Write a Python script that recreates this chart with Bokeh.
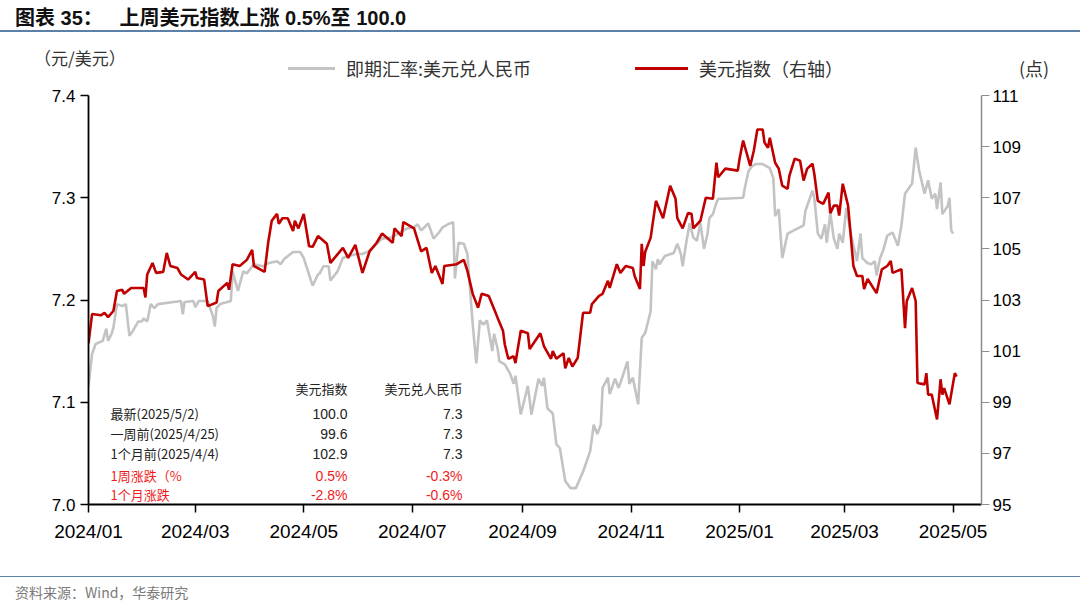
import pandas as pd
from bokeh.plotting import figure
from bokeh.models import (Range1d, LinearAxis, FixedTicker, NumeralTickFormatter,
                          DatetimeTickFormatter, Label, Div)
from bokeh.layouts import column
from bokeh.embed import file_html
from bokeh.resources import INLINE

# ---------------- data ----------------
dxy_dates = [
    "2024-01-01", "2024-01-03", "2024-01-08", "2024-01-10", "2024-01-12", "2024-01-15", "2024-01-17",
    "2024-01-20", "2024-01-21", "2024-01-25", "2024-02-01", "2024-02-02", "2024-02-03", "2024-02-06",
    "2024-02-08", "2024-02-12", "2024-02-14", "2024-02-16", "2024-02-20", "2024-02-22", "2024-02-26",
    "2024-03-01", "2024-03-02", "2024-03-06", "2024-03-08", "2024-03-13", "2024-03-14", "2024-03-19",
    "2024-03-20", "2024-03-22", "2024-03-26", "2024-03-30", "2024-04-02", "2024-04-03", "2024-04-09",
    "2024-04-11", "2024-04-13", "2024-04-16", "2024-04-17", "2024-04-19", "2024-04-22", "2024-04-25",
    "2024-04-26", "2024-04-28", "2024-05-01", "2024-05-04", "2024-05-06", "2024-05-09", "2024-05-14",
    "2024-05-16", "2024-05-23", "2024-05-26", "2024-05-30", "2024-06-03", "2024-06-07", "2024-06-11",
    "2024-06-14", "2024-06-20", "2024-06-21", "2024-06-25", "2024-06-26", "2024-07-02", "2024-07-06",
    "2024-07-09", "2024-07-12", "2024-07-14", "2024-07-18", "2024-07-19", "2024-07-26", "2024-07-30",
    "2024-08-01", "2024-08-04", "2024-08-07", "2024-08-09", "2024-08-13", "2024-08-16", "2024-08-18",
    "2024-08-21", "2024-08-22", "2024-08-24", "2024-08-27", "2024-08-28", "2024-08-31", "2024-09-04",
    "2024-09-05", "2024-09-11", "2024-09-13", "2024-09-17", "2024-09-18", "2024-09-20", "2024-09-24",
    "2024-09-25", "2024-09-27", "2024-09-29", "2024-10-02", "2024-10-05", "2024-10-09", "2024-10-10",
    "2024-10-14", "2024-10-16", "2024-10-19", "2024-10-20", "2024-10-24", "2024-10-26", "2024-10-29",
    "2024-11-02", "2024-11-03", "2024-11-06", "2024-11-07", "2024-11-08", "2024-11-09", "2024-11-12",
    "2024-11-15", "2024-11-19", "2024-11-23", "2024-11-26", "2024-11-27", "2024-11-30", "2024-12-03",
    "2024-12-05", "2024-12-06", "2024-12-10", "2024-12-13", "2024-12-17", "2024-12-19", "2024-12-20",
    "2024-12-24", "2024-12-31", "2025-01-01", "2025-01-03", "2025-01-07", "2025-01-09", "2025-01-11",
    "2025-01-14", "2025-01-15", "2025-01-17", "2025-01-18", "2025-01-21", "2025-01-23", "2025-01-25",
    "2025-01-28", "2025-01-29", "2025-02-01", "2025-02-04", "2025-02-06", "2025-02-08", "2025-02-11",
    "2025-02-12", "2025-02-14", "2025-02-17", "2025-02-20", "2025-02-21", "2025-02-23", "2025-02-25",
    "2025-02-26", "2025-02-28", "2025-03-03", "2025-03-06", "2025-03-08", "2025-03-11", "2025-03-12",
    "2025-03-14", "2025-03-19", "2025-03-22", "2025-03-25", "2025-03-27", "2025-03-28", "2025-04-02",
    "2025-04-04", "2025-04-05", "2025-04-08", "2025-04-10", "2025-04-11", "2025-04-15", "2025-04-16",
    "2025-04-17", "2025-04-19", "2025-04-22", "2025-04-24", "2025-04-25", "2025-04-26", "2025-04-29",
    "2025-05-02", "2025-05-03",
]
dxy_values = [
    101.3, 102.45, 102.4, 102.5, 102.33, 102.57, 103.35,
    103.4, 103.24, 103.47, 103.47, 103.1, 104.0, 104.45,
    104.06, 104.1, 104.84, 104.33, 104.25, 104.0, 103.8,
    104.1, 103.86, 103.8, 102.76, 102.9, 103.35, 103.67,
    103.4, 104.4, 104.33, 104.57, 104.96, 104.33, 104.1,
    105.24, 106.1, 106.37, 105.98, 106.2, 106.2, 105.7,
    106.1, 105.8, 106.37, 105.1, 105.08, 105.5, 105.2,
    104.45, 105.04, 104.65, 105.16, 104.06, 104.9, 105.24,
    105.6, 105.24, 105.8, 105.5, 106.05, 105.8, 104.9,
    105.04, 104.06, 104.33, 103.63, 104.33, 104.4, 104.57,
    104.14, 103.24, 102.7, 103.24, 103.16, 102.65, 102.3,
    101.8, 101.27, 100.7, 100.8, 100.53, 101.8, 101.7,
    101.08, 101.7, 101.2, 100.7, 101.0, 100.7, 100.92,
    100.33, 100.73, 100.4, 100.73, 102.5, 102.5, 102.84,
    103.16, 103.24, 103.75, 103.47, 104.4, 104.06, 104.33,
    104.25, 103.94, 103.43, 105.2, 104.33, 104.9, 105.43,
    106.88, 106.2, 107.47, 106.96, 106.2, 105.8, 106.4,
    106.37, 105.8, 106.1, 107.0, 106.96, 108.37, 107.8,
    108.14, 108.06, 108.53, 109.24, 108.25, 108.84, 109.67,
    109.67, 109.16, 108.96, 109.35, 108.37, 108.14, 107.47,
    107.35, 107.86, 108.53, 108.45, 107.67, 108.14, 108.33,
    107.94, 106.88, 106.76, 107.2, 106.4, 106.69, 106.69,
    106.3, 107.55, 106.69, 104.33, 103.94, 103.94, 103.43,
    103.82, 103.27, 104.2, 104.33, 104.53, 104.06, 104.2,
    101.9, 102.96, 103.47, 102.96, 99.75, 99.7, 100.14,
    99.3, 99.3, 98.33, 99.9, 99.3, 99.55, 98.92,
    100.14, 100.0,
]

cny_dates = [
    "2024-01-01", "2024-01-03", "2024-01-05", "2024-01-09", "2024-01-11", "2024-01-12", "2024-01-14",
    "2024-01-15", "2024-01-17", "2024-01-20", "2024-01-22", "2024-01-24", "2024-01-26", "2024-01-29",
    "2024-01-31", "2024-02-01", "2024-02-03", "2024-02-05", "2024-02-07", "2024-02-09", "2024-02-22",
    "2024-02-23", "2024-02-24", "2024-02-29", "2024-03-01", "2024-03-03", "2024-03-08", "2024-03-11",
    "2024-03-12", "2024-03-13", "2024-03-15", "2024-03-21", "2024-03-22", "2024-03-25", "2024-03-28",
    "2024-03-30", "2024-04-03", "2024-04-08", "2024-04-11", "2024-04-16", "2024-04-18", "2024-04-20",
    "2024-04-25", "2024-04-29", "2024-05-01", "2024-05-06", "2024-05-09", "2024-05-10", "2024-05-12",
    "2024-05-15", "2024-05-16", "2024-05-20", "2024-05-23", "2024-05-26", "2024-05-31", "2024-06-03",
    "2024-06-07", "2024-06-11", "2024-06-14", "2024-06-19", "2024-06-24", "2024-06-28", "2024-07-02",
    "2024-07-04", "2024-07-06", "2024-07-10", "2024-07-13", "2024-07-16", "2024-07-18", "2024-07-21",
    "2024-07-24", "2024-07-25", "2024-07-27", "2024-07-30", "2024-08-01", "2024-08-04", "2024-08-06",
    "2024-08-08", "2024-08-10", "2024-08-12", "2024-08-15", "2024-08-16", "2024-08-18", "2024-08-19",
    "2024-08-22", "2024-08-25", "2024-08-27", "2024-08-28", "2024-08-31", "2024-09-03", "2024-09-04",
    "2024-09-06", "2024-09-10", "2024-09-12", "2024-09-13", "2024-09-15", "2024-09-18", "2024-09-20",
    "2024-09-22", "2024-09-25", "2024-09-28", "2024-10-01", "2024-10-05", "2024-10-09", "2024-10-11",
    "2024-10-13", "2024-10-15", "2024-10-16", "2024-10-19", "2024-10-20", "2024-10-23", "2024-10-25",
    "2024-10-27", "2024-10-30", "2024-10-31", "2024-11-02", "2024-11-05", "2024-11-07", "2024-11-09",
    "2024-11-12", "2024-11-13", "2024-11-15", "2024-11-16", "2024-11-17", "2024-11-20", "2024-11-25",
    "2024-11-27", "2024-11-29", "2024-11-30", "2024-12-02", "2024-12-04", "2024-12-06", "2024-12-08",
    "2024-12-10", "2024-12-12", "2024-12-14", "2024-12-15", "2024-12-17", "2024-12-19", "2024-12-20",
    "2024-12-23", "2025-01-03", "2025-01-04", "2025-01-06", "2025-01-08", "2025-01-10", "2025-01-14",
    "2025-01-18", "2025-01-20", "2025-01-21", "2025-01-23", "2025-01-25", "2025-01-28", "2025-02-06",
    "2025-02-07", "2025-02-11", "2025-02-12", "2025-02-14", "2025-02-16", "2025-02-18", "2025-02-19",
    "2025-02-21", "2025-02-23", "2025-02-25", "2025-02-26", "2025-02-28", "2025-03-02", "2025-03-05",
    "2025-03-08", "2025-03-10", "2025-03-11", "2025-03-14", "2025-03-16", "2025-03-18", "2025-03-19",
    "2025-03-21", "2025-03-23", "2025-03-25", "2025-03-28", "2025-03-31", "2025-04-02", "2025-04-04",
    "2025-04-08", "2025-04-10", "2025-04-12", "2025-04-15", "2025-04-17", "2025-04-19", "2025-04-21",
    "2025-04-22", "2025-04-24", "2025-04-25", "2025-04-28", "2025-04-29", "2025-04-30", "2025-05-01",
]
cny_values = [
    7.116, 7.147, 7.157, 7.160, 7.172, 7.160, 7.167,
    7.173, 7.196, 7.194, 7.196, 7.165, 7.170, 7.179,
    7.179, 7.182, 7.179, 7.196, 7.192, 7.196, 7.199,
    7.186, 7.198, 7.199, 7.193, 7.199, 7.199, 7.184,
    7.174, 7.192, 7.196, 7.199, 7.228, 7.209, 7.228,
    7.226, 7.235, 7.233, 7.236, 7.238, 7.235, 7.240,
    7.247, 7.247, 7.241, 7.214, 7.225, 7.226, 7.233,
    7.233, 7.219, 7.228, 7.241, 7.243, 7.245, 7.245,
    7.248, 7.255, 7.260, 7.261, 7.266, 7.270, 7.271,
    7.274, 7.268, 7.275, 7.260, 7.266, 7.271, 7.274,
    7.276, 7.221, 7.256, 7.255, 7.245, 7.176, 7.138,
    7.180, 7.176, 7.180, 7.150, 7.167, 7.152, 7.140,
    7.137, 7.128, 7.118, 7.126, 7.088, 7.109, 7.116,
    7.088, 7.123, 7.116, 7.124, 7.094, 7.089, 7.059,
    7.055, 7.023, 7.016, 7.016, 7.032, 7.052, 7.078,
    7.069, 7.078, 7.114, 7.124, 7.108, 7.123, 7.114,
    7.124, 7.140, 7.118, 7.124, 7.098, 7.163, 7.168,
    7.189, 7.238, 7.230, 7.240, 7.235, 7.243, 7.246,
    7.255, 7.245, 7.233, 7.256, 7.275, 7.261, 7.258,
    7.275, 7.250, 7.265, 7.280, 7.284, 7.295, 7.299,
    7.299, 7.300, 7.310, 7.326, 7.331, 7.333, 7.333,
    7.329, 7.319, 7.282, 7.289, 7.241, 7.265, 7.273,
    7.287, 7.307, 7.300, 7.265, 7.260, 7.274, 7.256,
    7.285, 7.260, 7.250, 7.265, 7.256, 7.290, 7.261,
    7.238, 7.265, 7.241, 7.236, 7.235, 7.238, 7.224,
    7.241, 7.250, 7.263, 7.266, 7.253, 7.273, 7.304,
    7.314, 7.349, 7.326, 7.304, 7.317, 7.299, 7.304,
    7.289, 7.315, 7.284, 7.292, 7.300, 7.268, 7.265,
]

x_tick_dates = ["2024-01-01", "2024-03-01", "2024-05-01", "2024-07-01", "2024-09-01",
                "2024-11-01", "2025-01-01", "2025-03-01", "2025-05-01"]
left_ticks = [7.0, 7.1, 7.2, 7.3, 7.4]
right_ticks = [95, 97, 99, 101, 103, 105, 107, 109, 111]

table_header = ["美元指数", "美元兑人民币"]
table_rows = ["最新(2025/5/2)", "一周前(2025/4/25)", "1个月前(2025/4/4)", "1周涨跌（%", "1个月涨跌"]
table_dxy = ["100.0", "99.6", "102.9", "0.5%", "-2.8%"]
table_cny = ["7.3", "7.3", "7.3", "-0.3%", "-0.6%"]
row_red = [False, False, False, True, True]

series_names = ["即期汇率:美元兑人民币", "美元指数（右轴）"]
unit_left = "（元/美元）"
unit_right = "(点)"
title_text = "图表 35：&nbsp;&nbsp;&nbsp;上周美元指数上涨 0.5%至 100.0"
source_text = "资料来源：Wind，华泰研究"

# ---------------- styling ----------------
RED = "#c00000"
GRAY = "#c3c3c3"
TRED = "#f01c1c"
CJK = "Noto Sans CJK SC"
LAT = "Liberation Sans"
RULE = "#5d80a8"
W = 1080

ms = lambda d: pd.Timestamp(d).value // 10**6

p = figure(width=W, height=496, x_axis_type="datetime", output_backend="svg",
           toolbar_location=None,
           x_range=Range1d(ms("2024-01-01"), ms("2025-05-17")),
           y_range=Range1d(7.0, 7.4),
           min_border_left=88, min_border_right=99, min_border_top=15, min_border_bottom=72)
p.extra_y_ranges = {"dxy": Range1d(95, 111)}
p.xgrid.visible = False
p.ygrid.visible = False
p.outline_line_color = None
p.background_fill_color = "white"

g = p.line(pd.to_datetime(cny_dates), cny_values, line_color=GRAY, line_width=2.6)
r = p.line(pd.to_datetime(dxy_dates), dxy_values, line_color=RED, line_width=2.6, y_range_name="dxy")

# axes
xa = p.xaxis[0]
xa.ticker = FixedTicker(ticks=[ms(d) for d in x_tick_dates])
xa.formatter = DatetimeTickFormatter(years="%Y/%m", months="%Y/%m", days="%Y/%m", hours="%Y/%m")
xa.axis_line_color = "black"
xa.axis_line_width = 2
xa.major_tick_out = 8
xa.major_tick_in = 0
xa.major_tick_line_width = 1.5
xa.minor_tick_line_color = None
xa.major_label_text_font = LAT
xa.major_label_text_font_size = "19px"
xa.major_label_text_color = "black"
xa.major_label_standoff = 8

ya = p.yaxis[0]
ya.ticker = FixedTicker(ticks=left_ticks)
ya.formatter = NumeralTickFormatter(format="0.0")
ya.axis_line_color = "black"
ya.axis_line_width = 1.8
ya.major_tick_out = 8
ya.major_tick_in = 0
ya.major_tick_line_width = 1.5
ya.minor_tick_line_color = None
ya.major_label_text_font = LAT
ya.major_label_text_font_size = "17px"
ya.major_label_text_color = "black"
ya.major_label_standoff = 5

ra = LinearAxis(y_range_name="dxy", ticker=FixedTicker(ticks=right_ticks))
ra.axis_line_color = "#8c8c8c"
ra.axis_line_width = 1.5
ra.major_tick_line_color = "#8c8c8c"
ra.major_tick_out = 8
ra.major_tick_in = 0
ra.minor_tick_line_color = None
ra.major_label_text_font = LAT
ra.major_label_text_font_size = "17px"
ra.major_label_text_color = "black"
ra.major_label_standoff = 3
p.add_layout(ra, "right")

# table (screen coords relative to the frame: x from left, y from bottom)
for txt, xr in zip(table_header, [259, 374]):
    p.add_layout(Label(x=xr, y=116, x_units="screen", y_units="screen", text=txt, text_align="right",
                       text_baseline="middle", text_font=CJK, text_font_size="13px", text_color="#222222"))
row_y = [91, 71, 51, 29, 10]
for lab, v1, v2, red, yy in zip(table_rows, table_dxy, table_cny, row_red, row_y):
    col = TRED if red else "#222222"
    p.add_layout(Label(x=22, y=yy, x_units="screen", y_units="screen", text=lab, text_align="left",
                       text_baseline="middle", text_font=CJK, text_font_size="13px", text_color=col))
    p.add_layout(Label(x=259, y=yy, x_units="screen", y_units="screen", text=v1, text_align="right",
                       text_baseline="middle", text_font=LAT, text_font_size="14px", text_color=col))
    p.add_layout(Label(x=374, y=yy, x_units="screen", y_units="screen", text=v2, text_align="right",
                       text_baseline="middle", text_font=LAT, text_font_size="14px", text_color=col))

FONTS = f"font-family:'{CJK}',sans-serif;"
title_div = Div(
    text=(f'<div style="position:relative;width:{W}px;height:32px;border-bottom:2px solid {RULE};">'
          f'<span style="position:absolute;left:15px;top:8px;line-height:20px;white-space:nowrap;'
          f'font-family:\'{LAT}\',\'{CJK}\',sans-serif;font-weight:bold;font-size:20px;color:#111;">'
          f'{title_text}</span></div>'),
    width=W, height=34, margin=0)

header_div = Div(
    text=(f'<div style="position:relative;width:{W}px;height:46px;">'
          f'<span style="position:absolute;left:34px;top:14px;line-height:20px;white-space:nowrap;{FONTS}'
          f'font-size:17px;color:#333;">{unit_left}</span>'
          f'<span style="position:absolute;left:288px;top:33px;width:47px;height:0;'
          f'border-top:3px solid {GRAY};"></span>'
          f'<span style="position:absolute;left:346px;top:24px;line-height:20px;white-space:nowrap;{FONTS}'
          f'font-size:18px;color:#333;">{series_names[0]}</span>'
          f'<span style="position:absolute;left:635px;top:33px;width:53px;height:0;'
          f'border-top:3px solid {RED};"></span>'
          f'<span style="position:absolute;left:699px;top:24px;line-height:20px;white-space:nowrap;{FONTS}'
          f'font-size:18px;color:#333;">{series_names[1]}</span>'
          f'<span style="position:absolute;left:1019px;top:24px;line-height:20px;white-space:nowrap;{FONTS}'
          f'font-size:18px;color:#333;">{unit_right}</span>'
          f'</div>'),
    width=W, height=46, margin=0)

source_div = Div(
    text=(f'<div style="position:relative;width:{W}px;height:27px;border-top:1.5px solid {RULE};">'
          f'<span style="position:absolute;left:15px;top:7px;line-height:16px;white-space:nowrap;'
          f'{FONTS}font-size:14px;color:#7a7a7a;">{source_text}</span></div>'),
    width=W, height=28, margin=0)

layout = column(title_div, header_div, p, source_div, spacing=0)
open("out.html", "w").write(file_html(layout, INLINE))
